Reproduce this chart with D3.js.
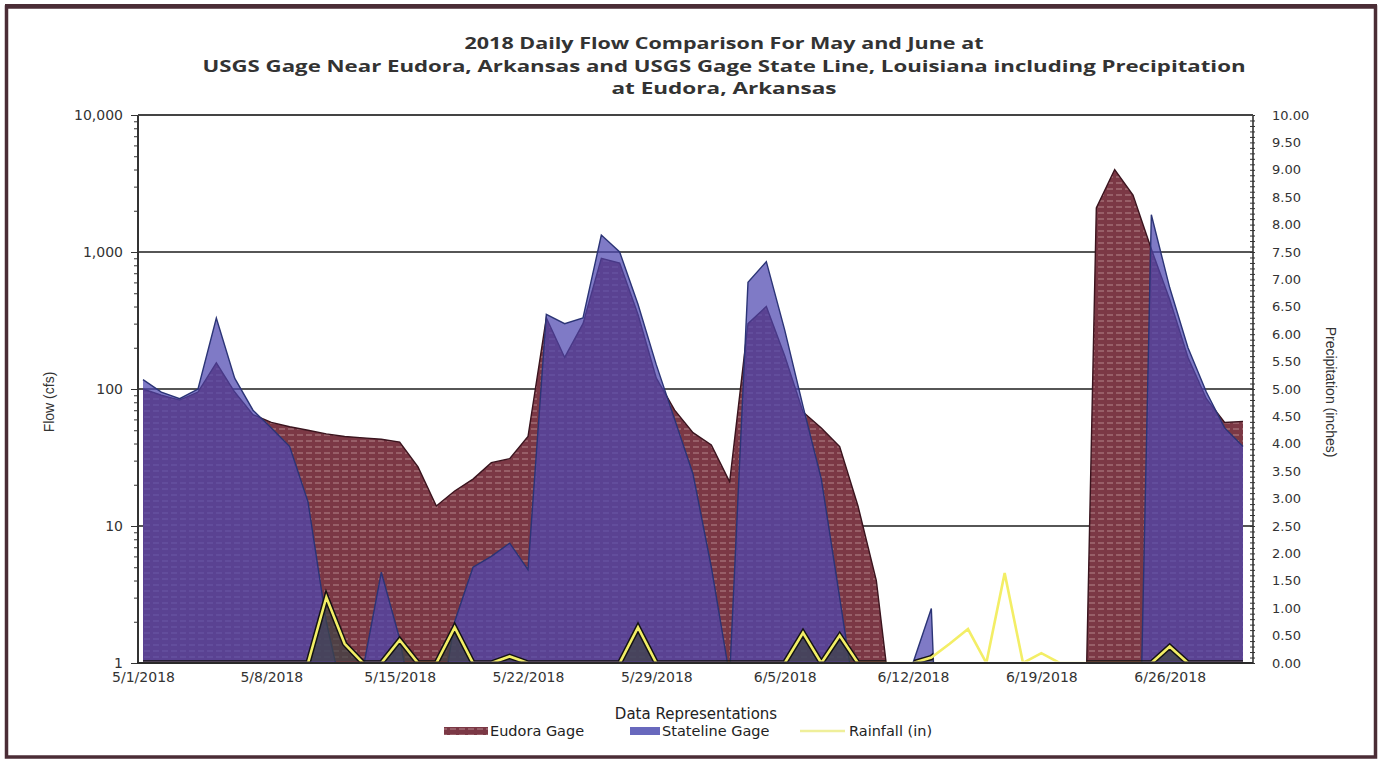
<!DOCTYPE html>
<html><head><meta charset="utf-8">
<script src="https://cdn.jsdelivr.net/npm/d3@7/dist/d3.min.js"></script>
<style>body{margin:0;background:#fff}svg{display:block}</style>
</head><body>
<svg id="chart" width="1385" height="767"></svg>
<script>
// ---------------- data ----------------
const startDate = "5/1/2018";
const eudoraFlow = [100,90,83,95,155,95,65,57,53,50,
  47,45,44,43,41,27,14,18,22,29,
  31,45,330,170,300,900,830,350,120,70,
  48,39,21,300,400,175,68,52,38,14,
  4,0.3,0,0,0,0,0,0,0,0,
  0,0,2100,4000,2600,1050,450,170,85,57,
  58];
const statelineFlow = [117,95,85,100,330,120,70,52,38,15,
  2,0.5,0.9,4.6,1.5,0.3,0.3,2,5,6,
  7.5,4.8,350,300,330,1330,1000,415,150,60,
  24,5,0.8,600,850,270,75,22,3,0.4,
  0,0,1.0,2.5,0,0,0,0,0,0,
  0,0,0,0,0,1870,550,200,95,52,
  38];
const rainfall = [0,0,0,0,0,0,0,0,0,0,
  1.2,0.35,0,0,0.42,0,0,0.65,0,0,
  0.12,0,0,0,0,0,0,0.65,0,0,
  0,0,0,0,0,0,0.55,0,0.5,0,
  0,0,0,0.1,0.35,0.62,0,1.64,0,0.18,
  0,0,0,0,0,0,0.3,0,0,0,
  0];
const dateTickLabels = ["5/1/2018","5/8/2018","5/15/2018","5/22/2018","5/29/2018","6/5/2018","6/12/2018","6/19/2018","6/26/2018"];
const flowTicks = [1,10,100,1000,10000];
const flowTickLabels = ["1","10","100","1,000","10,000"];
const precipTicks = [0,0.5,1,1.5,2,2.5,3,3.5,4,4.5,5,5.5,6,6.5,7,7.5,8,8.5,9,9.5,10];
const titleLines = ["2018 Daily Flow Comparison For May and June at",
  "USGS Gage Near Eudora, Arkansas and USGS Gage State Line, Louisiana including Precipitation",
  "at Eudora, Arkansas"];
const seriesNames = ["Eudora Gage","Stateline Gage","Rainfall (in)"];

// ---------------- layout ----------------
const L = 138, R = 1253, T = 115, B = 663;
const svg = d3.select("#chart");
const parse = d3.timeParse("%m/%d/%Y");
const start = parse(startDate);
const dates = eudoraFlow.map((_, i) => d3.timeDay.offset(start, i));
const x = d3.scaleTime().domain([start, dates[dates.length - 1]]).range([143, 1243]);
const yFlow = d3.scaleLog().domain([1, 10000]).range([B, T]);
const yRain = d3.scaleLinear().domain([0, 10]).range([B, T]);
const FLOOR = 0.001; // zero flow drawn far below the axis (log scale)

const defs = svg.append("defs");
defs.append("clipPath").attr("id", "plotClip").append("rect")
  .attr("x", L).attr("y", T).attr("width", R - L).attr("height", B - T);
defs.append("clipPath").attr("id", "rainClip").append("rect")
  .attr("x", L).attr("y", T).attr("width", R - L).attr("height", B - T - 1.5);

const pat = defs.append("pattern").attr("id", "eudoraPat").attr("patternUnits", "userSpaceOnUse")
  .attr("width", 9).attr("height", 6);
pat.append("rect").attr("width", 9).attr("height", 6).attr("fill", "#7b3845");
pat.append("line").attr("x1", 0).attr("x2", 6).attr("y1", 3).attr("y2", 3)
  .attr("stroke", "#dcbaba").attr("stroke-width", 0.8).attr("opacity", 0.75);

// frame
svg.append("rect").attr("x", 6.5).attr("y", 7).attr("width", 1369).attr("height", 750)
  .attr("fill", "none").attr("stroke", "#4b2d36").attr("stroke-width", 3.5);
svg.append("line").attr("x1", 5).attr("x2", 1377).attr("y1", 6).attr("y2", 6)
  .attr("stroke", "#4b2d36").attr("stroke-width", 4);

// title
const title = svg.append("g").attr("font-family", "'Open Sans', 'DejaVu Sans', sans-serif")
  .attr("font-weight", "bold").attr("font-size", 16.5).attr("fill", "#333").attr("text-anchor", "middle");
const titleW = [519, 1043, 225];
titleLines.forEach((t, i) => {
  title.append("text").attr("x", 724).attr("y", 49 + i * 22.5).text(t)
    .attr("textLength", titleW[i]).attr("lengthAdjust", "spacingAndGlyphs");
});

// gridlines
svg.append("g").selectAll("line").data(flowTicks.slice(1)).join("line")
  .attr("x1", L).attr("x2", R).attr("y1", d => yFlow(d)).attr("y2", d => yFlow(d))
  .attr("stroke", "#565656").attr("stroke-width", 1.8);

// areas
const rows = dates.map((d, i) => ({ date: d, e: eudoraFlow[i], s: statelineFlow[i], r: rainfall[i] }));
const fy = v => yFlow(Math.max(v, FLOOR));
const areaE = d3.area().x(d => x(d.date)).y0(B).y1(d => fy(d.e));
const areaS = d3.area().x(d => x(d.date)).y0(B).y1(d => fy(d.s));
const lineE = d3.line().x(d => x(d.date)).y(d => fy(d.e));
const lineS = d3.line().x(d => x(d.date)).y(d => fy(d.s));

const flowClip = defs.append("clipPath").attr("id", "flowClip");
flowClip.append("path").attr("d", areaE(rows));
flowClip.append("path").attr("d", areaS(rows));

const plot = svg.append("g").attr("clip-path", "url(#plotClip)");
plot.append("path").attr("d", areaE(rows)).attr("fill", "url(#eudoraPat)");
plot.append("path").attr("d", lineE(rows)).attr("fill", "none").attr("stroke", "#3a141e").attr("stroke-width", 1.4);
plot.append("path").attr("d", areaS(rows)).attr("fill", "rgb(78,70,176)").attr("fill-opacity", 0.72);
plot.append("path").attr("d", lineS(rows)).attr("fill", "none").attr("stroke", "#2b3476").attr("stroke-width", 1.4);

// rainfall
const areaR = d3.area().x(d => x(d.date)).y0(B).y1(d => yRain(d.r));
const lineR = d3.line().x(d => x(d.date)).y(d => yRain(d.r));
const rainG = svg.append("g").attr("clip-path", "url(#rainClip)");
const rainIn = rainG.append("g").attr("clip-path", "url(#flowClip)");
rainIn.append("path").attr("d", areaR(rows)).attr("fill", "#3e4446").attr("fill-opacity", 0.7);
rainIn.append("path").attr("d", lineR(rows)).attr("fill", "none").attr("stroke", "#141414")
  .attr("stroke-width", 5.5).attr("stroke-linejoin", "miter");
rainG.append("path").attr("d", lineR(rows)).attr("fill", "none").attr("stroke", "#f3ee66")
  .attr("stroke-width", 2.6).attr("stroke-linejoin", "miter");

// axes
const tickFont = "'DejaVu Sans', sans-serif";
function styleAxis(g, size) {
  g.select(".domain").remove();
  g.selectAll(".tick line").attr("stroke", "#333");
  g.selectAll(".tick text").attr("fill", "#333").attr("font-family", tickFont).attr("font-size", size);
}
const gl = svg.append("g").attr("transform", `translate(${L},0)`)
  .call(d3.axisLeft(yFlow).tickValues(flowTicks).tickFormat((d, i) => flowTickLabels[i]).tickSize(7).tickPadding(8));
styleAxis(gl, 14);
const minor = [];
for (let dec = 1; dec < 10000; dec *= 10) for (let m = 2; m <= 9; m++) minor.push(dec * m);
const glm = svg.append("g").attr("transform", `translate(${L},0)`)
  .call(d3.axisLeft(yFlow).tickValues(minor).tickFormat("").tickSize(4));
styleAxis(glm, 10);
const gr = svg.append("g").attr("transform", `translate(${R},0)`)
  .call(d3.axisRight(yRain).tickValues(precipTicks).tickFormat(d3.format(".2f")).tickSize(0).tickPadding(19));
styleAxis(gr, 13);
const rMinor = d3.range(0, 101).map(i => i / 10);
const grm = svg.append("g").attr("transform", `translate(${R + 2},0)`)
  .call(d3.axisLeft(yRain).tickValues(rMinor).tickFormat("").tickSize(5));
styleAxis(grm, 10);
const gb = svg.append("g").attr("transform", `translate(0,${B})`)
  .call(d3.axisBottom(x).tickValues(dateTickLabels.map(parse)).tickFormat((d, i) => dateTickLabels[i]).tickSize(0).tickPadding(9));
styleAxis(gb, 14);

svg.append("line").attr("x1", L).attr("x2", L).attr("y1", T).attr("y2", B + 1).attr("stroke", "#333").attr("stroke-width", 2);
svg.append("line").attr("x1", R).attr("x2", R).attr("y1", T).attr("y2", B + 1).attr("stroke", "#333").attr("stroke-width", 1.6);
svg.append("line").attr("x1", L - 1).attr("x2", R).attr("y1", B).attr("y2", B).attr("stroke", "#2a2a2a").attr("stroke-width", 2.2);
svg.append("line").attr("x1", L).attr("x2", R).attr("y1", T).attr("y2", T).attr("stroke", "#444").attr("stroke-width", 2);

svg.append("text").attr("transform", "translate(54,402) rotate(-90)").attr("text-anchor", "middle")
  .attr("font-family", "'Liberation Sans', Arial, sans-serif").attr("font-size", 14).attr("fill", "#333").text("Flow (cfs)");
svg.append("text").attr("transform", "translate(1326,392) rotate(90)").attr("text-anchor", "middle")
  .attr("font-family", "'Liberation Sans', Arial, sans-serif").attr("font-size", 14).attr("fill", "#333").text("Precipitation (inches)");

// legend
const lg = svg.append("g").attr("font-family", tickFont).attr("fill", "#222");
lg.append("text").attr("x", 696).attr("y", 719).attr("text-anchor", "middle").attr("font-size", 15).text("Data Representations");
lg.append("rect").attr("x", 444).attr("y", 727).attr("width", 44).attr("height", 8).attr("fill", "url(#eudoraPat)");
lg.append("text").attr("x", 490).attr("y", 736).attr("font-size", 14.5).text(seriesNames[0]);
lg.append("rect").attr("x", 630).attr("y", 727).attr("width", 30).attr("height", 8).attr("fill", "rgb(78,78,178)").attr("fill-opacity", 0.85);
lg.append("text").attr("x", 662).attr("y", 736).attr("font-size", 14.5).text(seriesNames[1]);
lg.append("line").attr("x1", 800).attr("x2", 845).attr("y1", 731).attr("y2", 731).attr("stroke", "#efef9a").attr("stroke-width", 2.5);
lg.append("text").attr("x", 849).attr("y", 736).attr("font-size", 14.5).text(seriesNames[2]);
</script>
</body></html>
